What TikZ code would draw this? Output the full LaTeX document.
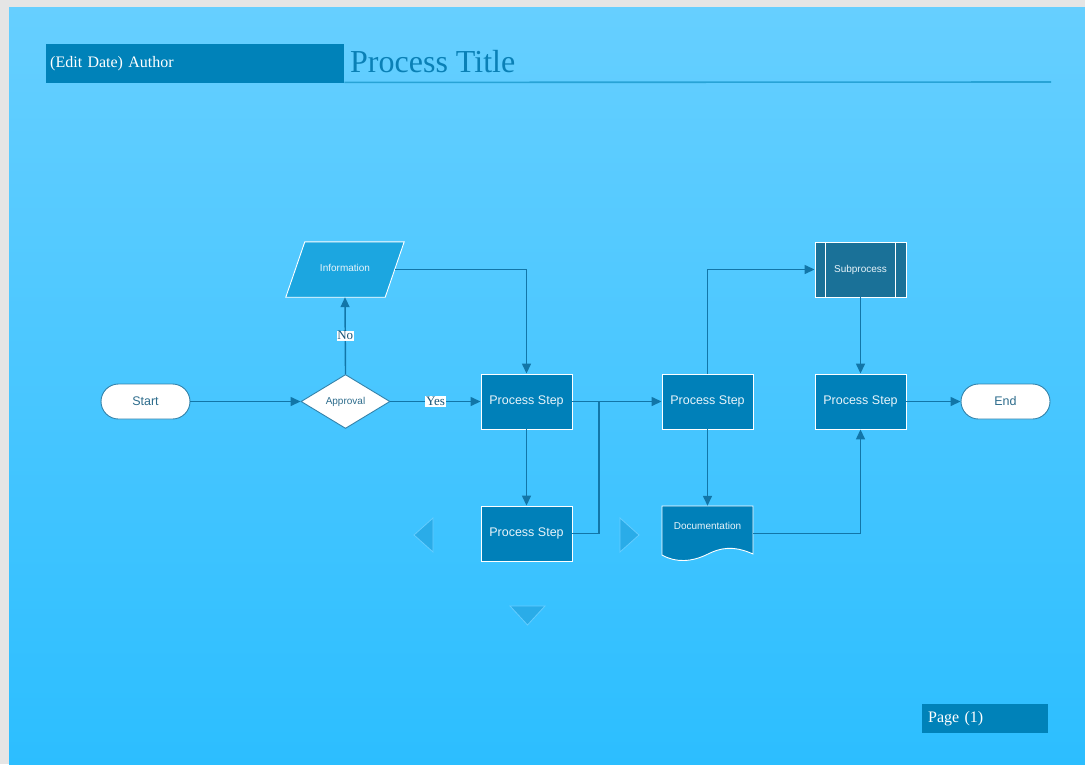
\documentclass[tikz,border=0pt]{standalone}
\usepackage{fontspec}
\setmainfont{Liberation Serif}
\setsansfont{Liberation Sans}
\usetikzlibrary{arrows.meta,shapes.geometric,calc}

\definecolor{bgtop}{RGB}{102,207,255}
\definecolor{bgbot}{RGB}{44,190,255}
\definecolor{frame}{RGB}{229,229,229}
\definecolor{hdrblue}{RGB}{0,130,185}
\definecolor{titleblue}{RGB}{10,128,182}
\definecolor{ruleblue}{RGB}{40,163,214}
\definecolor{stepblue}{RGB}{0,128,185}
\definecolor{infoblue}{RGB}{28,166,224}
\definecolor{subblue}{RGB}{26,113,152}
\definecolor{wire}{RGB}{18,118,168}
\definecolor{termtext}{RGB}{45,108,140}
\definecolor{termline}{RGB}{50,130,170}
\definecolor{lbltext}{RGB}{25,85,120}
\definecolor{steptext}{RGB}{232,244,250}
\definecolor{trifill}{RGB}{42,172,232}
\definecolor{triline}{RGB}{100,205,255}

\tikzset{
  fs/.style={font=\sffamily\fontsize{#1}{#1}\selectfont},
  terminal/.style={draw=termline, line width=0.9pt, fill=white, rounded corners=17.5pt,
    minimum width=89pt, minimum height=35pt, inner sep=0pt, text=termtext, fs=12.5},
  stepbox/.style={draw=white, line width=0.9pt, fill=stepblue, minimum width=91pt,
    minimum height=55pt, inner sep=0pt, text=steptext, fs=12.5},
  decision/.style={diamond, draw=termline, line width=0.9pt, fill=white, minimum width=89pt,
    minimum height=54pt, inner sep=0pt, text=termtext, fs=10},
  anchorbox/.style={rectangle, minimum height=55pt, inner sep=0pt, text=steptext, fs=10},
  wirearrow/.style={draw=wire, line width=1.4pt, -{Triangle[length=10pt,width=9pt]}},
  wireline/.style={draw=wire, line width=1.4pt},
  lbl/.style={fill=white, inner sep=0.8pt, text=lbltext, font=\fontsize{13}{13}\selectfont},
  deco/.style={fill=trifill, draw=triline, line width=0.8pt, line join=miter},
}

\begin{document}
\begin{tikzpicture}[x=1pt, y=-1pt]
\useasboundingbox (0,0) rectangle (1085,764);

% page frame and gradient background
\fill[frame] (0,0) rectangle (1085,764);
\shade[top color=bgtop, bottom color=bgbot] (9,7) rectangle (1085,764);

% header
\node[fill=hdrblue, anchor=north west, minimum height=39pt, text width=290pt, inner xsep=4pt,
  align=left, text=white, font=\fontsize{16}{16}\selectfont] (author) at (46,44) {(Edit Date) Author};
\node[anchor=base west, inner sep=0pt, text=titleblue, font=\fontsize{32}{32}\selectfont]
  (title) at (350,72) {Process Title};
\coordinate (ruleend) at (1051,82);
\draw[ruleblue, line width=1.6pt] ($(author.south east)+(0,-1)$) -- (ruleend);

% footer
\node[fill=hdrblue, anchor=north west, minimum height=29pt, text width=114pt, inner xsep=6pt,
  align=left, text=white, font=\fontsize{16}{16}\selectfont] (page) at (922,704) {Page (1)};

% flow nodes
\node[terminal] (start) at (145.5,401.5) {Start};
\node[decision] (approval) at (345.5,401.5) {Approval};

\node[anchorbox, minimum width=100pt] (info) at (345,269.5) {};
\fill[infoblue, draw=white, line width=0.9pt]
  ($(info.south west)+(-9,0)$) -- ($(info.north west)+(10,0)$) --
  ($(info.north east)+(9,0)$) -- ($(info.south east)+(-10,0)$) -- cycle;
\node[fs=10, text=steptext] (infotext) at (345,268) {Information};

\node[stepbox] (ps1) at (526.5,401.5) {Process Step};
\node[stepbox] (ps4) at (526.5,533.5) {Process Step};
\node[stepbox] (ps2) at (707.5,401.5) {Process Step};
\node[stepbox] (ps3) at (860.5,401.5) {Process Step};

\node[stepbox, fill=subblue, fs=10] (sub) at (860.5,269.5) {Subprocess};
\draw[white, line width=0.9pt] ($(sub.north west)+(11,0)$) -- ($(sub.south west)+(11,0)$);
\draw[white, line width=0.9pt] ($(sub.north east)+(-11,0)$) -- ($(sub.south east)+(-11,0)$);

\node[terminal] (end) at (1005.5,401.5) {End};

\node[anchorbox, minimum width=91pt] (doc) at (707.5,533.5) {};
\fill[stepblue, draw=white, line width=0.9pt]
  (662,555) -- (662,506) -- (753,506) -- (753,554)
  .. controls (733,545) and (720,548) .. (708,554)
  .. controls (692,562) and (676,563) .. (662,555) -- cycle;
\node[fs=10, text=steptext] (doctext) at (707.5,526) {Documentation};

% connectors
\draw[wirearrow] (start.east) -- (approval.west);
\draw[wirearrow] (approval.east) -- node[lbl] (yes) {Yes} (ps1.west);
\draw[wirearrow] (approval.north) -- node[lbl] (no) {No} (info.south);
\draw[wirearrow] (info.east) -| (ps1.north);
\draw[wirearrow] (ps1.south) -- (ps4.north);
\coordinate (join) at (599,401.5);
\draw[wireline] (ps4.east) -| (join);
\draw[wirearrow] (ps1.east) -- (ps2.west);
\draw[wirearrow] (ps2.north) |- (sub.west);
\draw[wirearrow] (sub.south) -- (ps3.north);
\draw[wirearrow] (ps3.east) -- (end.west);
\draw[wirearrow] (ps2.south) -- (doc.north);
\draw[wirearrow] (doc.east) -| (ps3.south);

% page navigation marks
\path[deco] (433,518) -- (433,552) -- (414,535) -- cycle;
\path[deco] (620,518) -- (620,552) -- (639,535) -- cycle;
\path[deco] (510,606) -- (545,606) -- (527.5,625) -- cycle;
\end{tikzpicture}
\end{document}
